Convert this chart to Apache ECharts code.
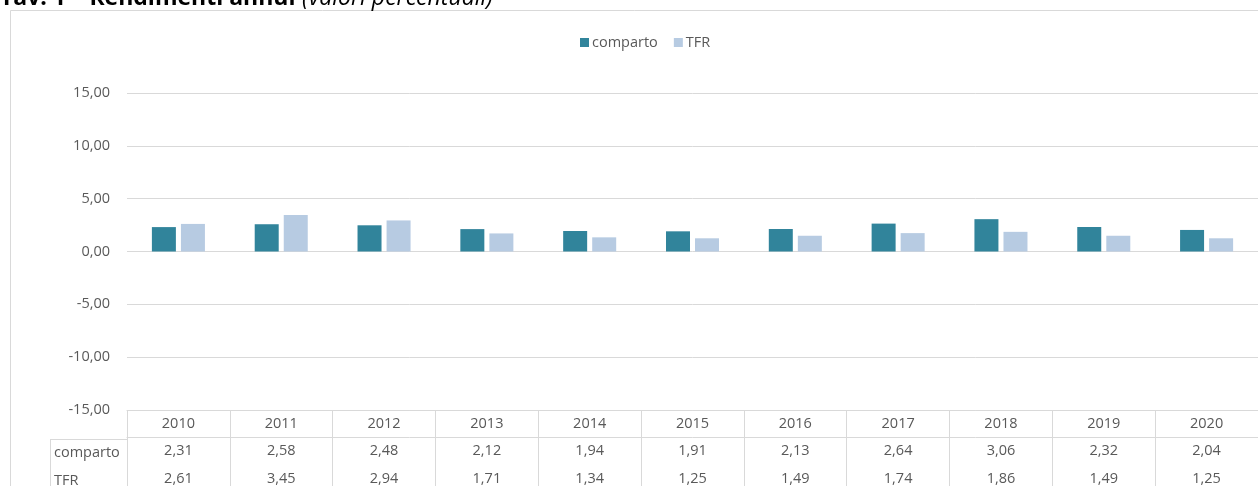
<!DOCTYPE html>
<html>
<head>
<meta charset="utf-8">
<script src="https://cdn.jsdelivr.net/npm/echarts@6/dist/echarts.min.js"></script>
<style>
html,body{margin:0;padding:0;background:#fff;}
#c{width:1258px;height:486px;}
</style>
</head>
<body>
<div id="c"></div>
<script>
const years = ['2010','2011','2012','2013','2014','2015','2016','2017','2018','2019','2020'];
const comparto = [2.31, 2.58, 2.48, 2.12, 1.94, 1.91, 2.13, 2.64, 3.06, 2.32, 2.04];
const tfr = [2.61, 3.45, 2.94, 1.71, 1.34, 1.25, 1.49, 1.74, 1.86, 1.49, 1.25];
const yTicks = { min: -15, max: 15, interval: 5 };

const fmt = v => Number(v).toFixed(2).replace('.', ',');
const FONT = '"Open Sans", "Liberation Sans", sans-serif';
const GRAY = '#595959';
const LINE = '#d9d9d9';
const FS = 14.5;

const chart = echarts.init(document.getElementById('c'), null, {renderer: 'canvas'});
const labelStyle = {color: GRAY, fontFamily: FONT, fontSize: FS};

chart.setOption({
  animation: false,
  backgroundColor: '#fff',
  graphic: [
    {type: 'rect', shape: {x: 10.5, y: 10.5, width: 1320, height: 520}, style: {fill: 'none', stroke: LINE, lineWidth: 1}, z: 0},
    {type: 'text', left: 0, top: -13, style: {
      text: '{b|Tav. 1 – Rendimenti annui}  {i|(valori percentuali)}',
      rich: {
        b: {fontFamily: FONT, fontSize: 23, fontWeight: 'bold', fill: '#000'},
        i: {fontFamily: FONT, fontSize: 23, fontStyle: 'italic', fill: '#000'}
      }
    }, z: 10},
    {type: 'line', shape: {x1: 50, y1: 439.5, x2: 127, y2: 439.5}, style: {stroke: LINE, lineWidth: 1}},
    {type: 'line', shape: {x1: 50.5, y1: 439, x2: 50.5, y2: 486}, style: {stroke: LINE, lineWidth: 1}},
    {type: 'text', x: 54, y: 453, style: {text: 'comparto', fill: GRAY, font: FS + 'px ' + FONT, verticalAlign: 'middle'}},
    {type: 'text', x: 54, y: 481, style: {text: 'TFR', fill: GRAY, font: FS + 'px ' + FONT, verticalAlign: 'middle'}}
  ],
  legend: {
    left: 575, top: 30,
    icon: 'rect', itemWidth: 9, itemHeight: 9, itemGap: 16,
    textStyle: {color: GRAY, fontFamily: FONT, fontSize: FS, padding: [0, 0, 0, -2]},
    data: ['comparto', 'TFR']
  },
  grid: {left: 127, top: 93, width: 1144, height: 319, containLabel: false},
  xAxis: [
    {
      type: 'category', data: years, position: 'bottom', gridIndex: 0,
      axisLine: {show: true, onZero: false, lineStyle: {color: LINE}},
      axisTick: {show: true, length: 80, alignWithLabel: false, interval: 0, lineStyle: {color: LINE}},
      axisLabel: Object.assign({margin: 6, interval: 0}, labelStyle)
    },
    {
      type: 'category', data: comparto.map(fmt), position: 'bottom', offset: 27, gridIndex: 0,
      axisLine: {show: true, onZero: false, lineStyle: {color: LINE}},
      axisTick: {show: false},
      axisLabel: Object.assign({margin: 6, interval: 0}, labelStyle)
    },
    {
      type: 'category', data: tfr.map(fmt), position: 'bottom', offset: 55, gridIndex: 0,
      axisLine: {show: false, onZero: false},
      axisTick: {show: false},
      axisLabel: Object.assign({margin: 6, interval: 0}, labelStyle)
    }
  ],
  yAxis: {
    type: 'value', min: yTicks.min, max: yTicks.max, interval: yTicks.interval,
    axisLine: {show: false}, axisTick: {show: false},
    splitLine: {lineStyle: {color: LINE}},
    axisLabel: Object.assign({margin: 17, formatter: fmt}, labelStyle)
  },
  series: [
    {name: 'comparto', type: 'bar', xAxisIndex: 0, data: comparto, barWidth: 24, barGap: '21%', itemStyle: {color: '#31849B'}},
    {name: 'TFR', type: 'bar', xAxisIndex: 0, data: tfr, barWidth: 24, barGap: '21%', itemStyle: {color: '#B7CBE2'}}
  ]
});
</script>
</body>
</html>
